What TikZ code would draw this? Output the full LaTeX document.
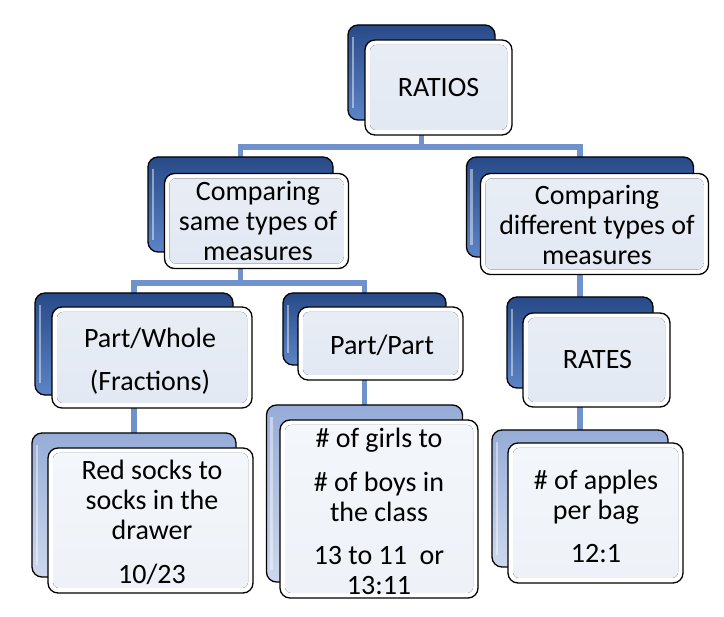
\documentclass[tikz,border=0pt]{standalone}
\usepackage{fontspec}
\setmainfont{Carlito}
\usetikzlibrary{calc}
\definecolor{bkT}{RGB}{40,74,136}
\definecolor{bkB}{RGB}{92,132,198}
\definecolor{blT}{RGB}{150,172,215}
\definecolor{blB}{RGB}{205,216,237}
\definecolor{connc}{RGB}{112,146,204}
\definecolor{inA}{RGB}{227,233,243}
\definecolor{inB}{RGB}{238,242,248}
\pgfdeclarelayer{bg}
\pgfsetlayers{bg,main}
\tikzset{
  conn/.style={draw=connc, line width=5.5pt},
  backdark/.style={rounded corners=10pt, draw=black, line width=1.3pt, inner sep=0pt, outer sep=0pt, top color=bkT, bottom color=bkB},
  backlite/.style={rounded corners=10pt, draw=black, line width=1.3pt, inner sep=0pt, outer sep=0pt, top color=blT, bottom color=blB},
  frontbox/.style={rounded corners=10pt, draw=black, line width=1.3pt, fill=white, inner sep=0pt, outer sep=0pt},
  innerA/.style={top color=inA!85!white, bottom color=inA},
  innerB/.style={top color=inB!70!white, bottom color=inB},
  txt/.style={font=\fontsize{28}{30}\selectfont, align=center, inner sep=0pt, text=black},
}
\newcommand\pairbox[9]{%
  \node[#2, minimum width=#4, minimum height=#5] (#1B) at (#3) {};
  \draw[white, opacity=0.45, line width=2.5pt] ([shift={(5pt,-12pt)}]#1B.north west) -- ([shift={(5pt,12pt)}]#1B.south west);
  \node[frontbox, minimum width=#7, minimum height=#8] (#1F) at (#6) {};
  \fill[#9, rounded corners=6pt] ([shift={(5pt,-5pt)}]#1F.north west) rectangle ([shift={(-5pt,5pt)}]#1F.south east);
}
\begin{document}
\begin{tikzpicture}[x=1pt,y=-1pt]
\useasboundingbox (0,0) rectangle (724,617);

\pairbox{r}{backdark}{421.5,72.5}{147pt}{95pt}{438.5,87.5}{147pt}{95pt}{innerA}
\node[txt] (rT) at (rF.center) {RATIOS};

\pairbox{cs}{backdark}{240.5,204.5}{185pt}{95pt}{256.5,221}{184pt}{95pt}{innerA}
\node[txt] (csT) at (258,221) {Comparing\\same types of\\measures};

\pairbox{cd}{backdark}{580,207}{227pt}{100pt}{594.5,224}{228pt}{101pt}{innerA}
\node[txt] (cdT) at (597,225) {Comparing\\different types of\\measures};

\pairbox{ra}{backdark}{580,342.5}{146pt}{91pt}{596.5,360}{147pt}{94pt}{innerA}
\node[txt] (raT) at (597.5,360) {RATES};

\pairbox{pw}{backdark}{134,344}{198pt}{102pt}{152,357.5}{200pt}{101pt}{innerA}
\node[txt] (pwT) at (150,361) {Part/Whole\\[13pt](Fractions)};

\pairbox{pp}{backdark}{364.5,329}{163pt}{72pt}{380.5,343.5}{165pt}{73pt}{innerA}
\node[txt] (ppT) at (382,345) {Part/Part};

\pairbox{rs}{backlite}{134,505}{204pt}{144pt}{150.5,520.5}{205pt}{145pt}{innerB}
\node[txt] (rsT) at (152,522) {Red socks to\\socks in the\\drawer\\[14pt]10/23};

\pairbox{g}{backlite}{364.5,493.5}{196pt}{177pt}{379,509}{198pt}{178pt}{innerB}
\node[txt] (gT) at (379,511) {\# of girls to\\[14pt]\# of boys in\\the class\\[13pt]13 to 11~~or\\13:11};

\pairbox{ap}{backlite}{580,498.5}{176pt}{137pt}{595.5,513}{175pt}{140pt}{innerB}
\node[txt] (apT) at (596,516) {\# of apples\\per bag\\[13pt]12:1};

\begin{pgfonlayer}{bg}
  \fill[white] (0,0) rectangle (724,617);
  \draw[conn] (rB.south) |- ([yshift=10pt]csB.north) -- (csB.north);
  \draw[conn] (rB.south) |- ([yshift=10pt]cdB.north) -- (cdB.north);
  \draw[conn] (csB.south) |- ([yshift=10pt]pwB.north) -- (pwB.north);
  \draw[conn] (csB.south) |- ([yshift=10pt]ppB.north) -- (ppB.north);
  \draw[conn] (pwB.south) -- (rsB.north);
  \draw[conn] (ppB.south) -- (gB.north);
  \draw[conn] (cdB.south) -- (raB.north);
  \draw[conn] (raB.south) -- (apB.north);
\end{pgfonlayer}
\end{tikzpicture}
\end{document}
